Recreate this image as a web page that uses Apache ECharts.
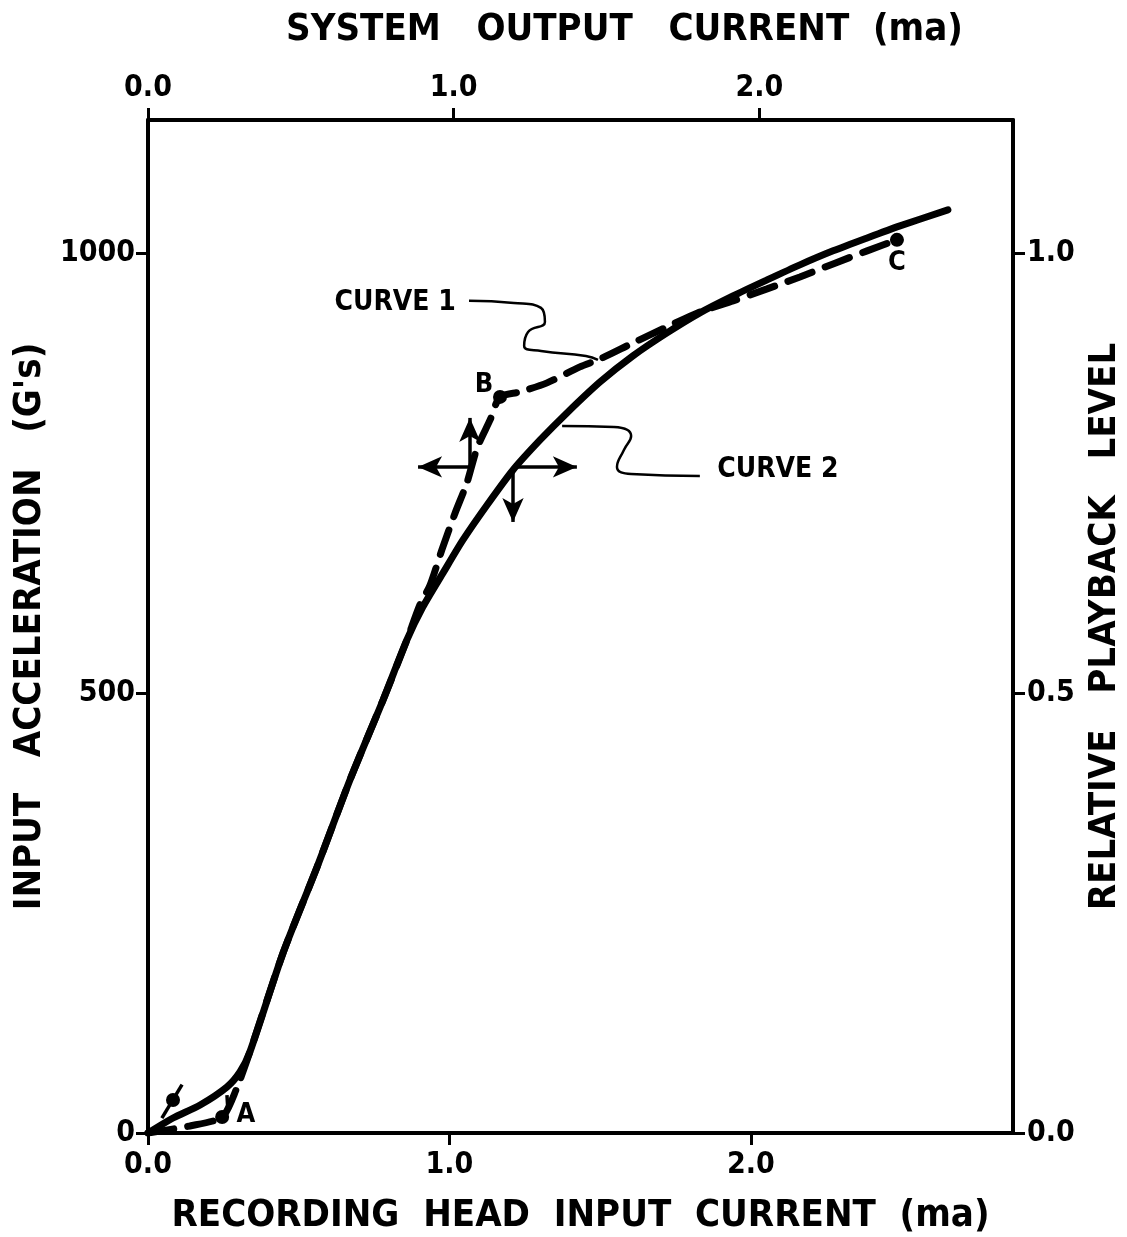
<!DOCTYPE html>
<html>
<head>
<meta charset="utf-8">
<script src="https://cdn.jsdelivr.net/npm/echarts@6/dist/echarts.min.js"></script>
<style>html,body{margin:0;padding:0;background:#fff}#c{width:1127px;height:1237px}</style>
</head>
<body>
<div id="c"></div>
<script>
// ---- data (x: recording head input current, ma; y: input acceleration, G's)
const curve1 = [[0,0],[0.139,8],[0.246,18.2],[0.292,48.9],[0.338,92],[0.448,204.5],[0.561,302.3],[0.670,401.1],[0.780,492],[0.859,560.2],[0.902,600],[0.936,622.7],[0.975,662.5],[1.019,704.5],[1.058,738.6],[1.092,778.4],[1.135,810.2],[1.168,836.4],[1.234,842],[1.324,852.3],[1.433,870.5],[1.500,879.5],[1.609,897.7],[1.722,915.9],[1.831,933],[1.941,945.5],[2.054,959.1],[2.163,972.7],[2.273,987.5],[2.386,1002.3],[2.485,1014.8]];
const curve2 = [[0,0],[0.083,17],[0.173,31.8],[0.262,52.3],[0.305,69.3],[0.338,92],[0.448,204.5],[0.561,302.3],[0.670,401.1],[0.780,492],[0.859,560.2],[0.912,597.7],[0.979,636.4],[1.045,673.9],[1.125,713.6],[1.211,753.4],[1.301,787.5],[1.390,818.2],[1.500,853.4],[1.609,883],[1.722,909.1],[1.831,931.8],[1.941,951.1],[2.054,969.3],[2.163,986.4],[2.273,1002.3],[2.386,1017],[2.495,1030.7],[2.654,1048.9]];
const markedPoints = [[0.083,37.5],[0.246,18.2],[1.168,836.4],[2.485,1014.8]];
const pointSlashes = [[[0.046,17],[0.113,55]],[[0.265,26],[0.262,43]]];
const pointLetters = [{t:'A',p:[0.325,20.5]},{t:'B',p:[1.115,850]},{t:'C',p:[2.485,988.6]}];
const curveNames = [{t:'CURVE 1',p:[0.820,943.2]},{t:'CURVE 2',p:[2.090,753.4]}];
const leader1 = [[1.065,945.5],[1.214,943.2],[1.304,937.5],[1.317,921.6],[1.261,910.2],[1.248,894.3],[1.304,888.6],[1.453,882.9],[1.493,878.4]];
const leader2 = [[1.374,803.4],[1.546,802.3],[1.603,792],[1.579,776.1],[1.556,756.8],[1.603,748.9],[1.831,746.6]];
const arrows1 = {origin:[1.068,756.8], left:[0.896,756.8], up:[1.068,812.5]};
const arrows2 = {origin:[1.211,756.8], right:[1.423,756.8], down:[1.211,694.3]};
const bottomTicks = [0,1,2];
const topTicks = [0,1,2];
const leftTicks = [0,500,1000];
const rightTicks = [0,0.5,1.0];

const FONT = "'Liberation Sans Narrow','DejaVu Sans Condensed','Roboto Condensed','DejaVu Sans',sans-serif";
const lab = {fontFamily:FONT,fontWeight:'bold',fontSize:30,color:'#000'};
const axisLineStyle = {show:true,onZero:false,lineStyle:{color:'#000',width:4}};
const tickStyle = (vals)=>({show:true,inside:false,length:12,lineStyle:{color:'#000',width:3},customValues:vals});
const textLabel = (size)=>({show:true,position:'inside',fontFamily:FONT,fontWeight:'bold',fontSize:size,color:'#000',opacity:1,textBorderWidth:0});

const chart = echarts.init(document.getElementById('c'));
chart.setOption({
  animation:false,
  backgroundColor:'#fff',
  grid:{left:148,right:114,top:120,bottom:104,containLabel:false,outerBoundsMode:'none'},
  xAxis:[
    {type:'value',position:'bottom',min:0,max:2.87,
     name:'RECORDING  HEAD  INPUT  CURRENT  (ma)',nameLocation:'middle',nameGap:64,
     nameTextStyle:{fontFamily:FONT,fontWeight:'bold',fontSize:38,color:'#000'},
     axisLine:axisLineStyle,axisTick:tickStyle(bottomTicks),splitLine:{show:false},
     axisLabel:Object.assign({margin:17,customValues:bottomTicks,formatter:v=>v.toFixed(1)},lab)},
    {type:'value',position:'top',min:0,max:2.83,
     name:'SYSTEM   OUTPUT   CURRENT  (ma)',nameLocation:'middle',nameGap:71,
     nameTextStyle:{fontFamily:FONT,fontWeight:'bold',fontSize:38,color:'#000',padding:[0,0,0,88]},
     axisLine:axisLineStyle,axisTick:tickStyle(topTicks),splitLine:{show:false},
     axisLabel:Object.assign({margin:17,customValues:topTicks,formatter:v=>v.toFixed(1)},lab)}
  ],
  yAxis:[
    {type:'value',position:'left',min:0,max:1151,
     name:'INPUT   ACCELERATION   (G\'s)',nameLocation:'middle',nameGap:92,nameRotate:90,
     nameTextStyle:{fontFamily:FONT,fontWeight:'bold',fontSize:38,color:'#000'},
     axisLine:axisLineStyle,axisTick:tickStyle(leftTicks),splitLine:{show:false},
     axisLabel:Object.assign({margin:13,customValues:leftTicks,formatter:v=>String(v)},lab)},
    {type:'value',position:'right',min:0,max:1.151,
     name:'RELATIVE   PLAYBACK   LEVEL',nameLocation:'middle',nameGap:70,nameRotate:90,
     nameTextStyle:{fontFamily:FONT,fontWeight:'bold',fontSize:38,color:'#000'},
     axisLine:axisLineStyle,axisTick:tickStyle(rightTicks),splitLine:{show:false},
     axisLabel:Object.assign({margin:14,customValues:rightTicks,formatter:v=>v.toFixed(1)},lab)}
  ],
  series:[
    {type:'line',name:'Curve 2',data:curve2,smooth:0.25,symbol:'none',
     lineStyle:{color:'#000',width:7,cap:'round'},z:3,
     markLine:{silent:true,symbol:['none','arrow'],symbolSize:[16,24],label:{show:false},
       lineStyle:{color:'#000',width:3.5,type:'solid'},
       data:[[{coord:arrows2.origin},{coord:arrows2.right}],[{coord:arrows2.origin},{coord:arrows2.down}],
             [{coord:arrows1.origin},{coord:arrows1.left}],[{coord:arrows1.origin},{coord:arrows1.up}]]}},
    {type:'line',name:'Curve 1',data:curve1,smooth:0.25,symbol:'none',
     lineStyle:{color:'#000',width:7,type:[26,14],cap:'round'},z:3},
    {type:'scatter',data:markedPoints,symbol:'circle',symbolSize:14,itemStyle:{color:'#000',opacity:1},z:4},
    ...pointSlashes.map(s=>({type:'line',data:s,symbol:'none',lineStyle:{color:'#000',width:3.5},z:4})),
    {type:'line',data:leader1,smooth:0.5,symbol:'none',lineStyle:{color:'#000',width:2.5},z:2},
    {type:'line',data:leader2,smooth:0.5,symbol:'none',lineStyle:{color:'#000',width:2.5},z:2},
    {type:'scatter',data:pointLetters.map(d=>({value:d.p,label:{formatter:d.t}})),symbolSize:1,
     itemStyle:{color:'#fff',opacity:0},label:textLabel(27),z:5},
    {type:'scatter',data:curveNames.map(d=>({value:d.p,label:{formatter:d.t}})),symbolSize:1,
     itemStyle:{color:'#fff',opacity:0},label:textLabel(28),z:5}
  ]
});
</script>
</body>
</html>
